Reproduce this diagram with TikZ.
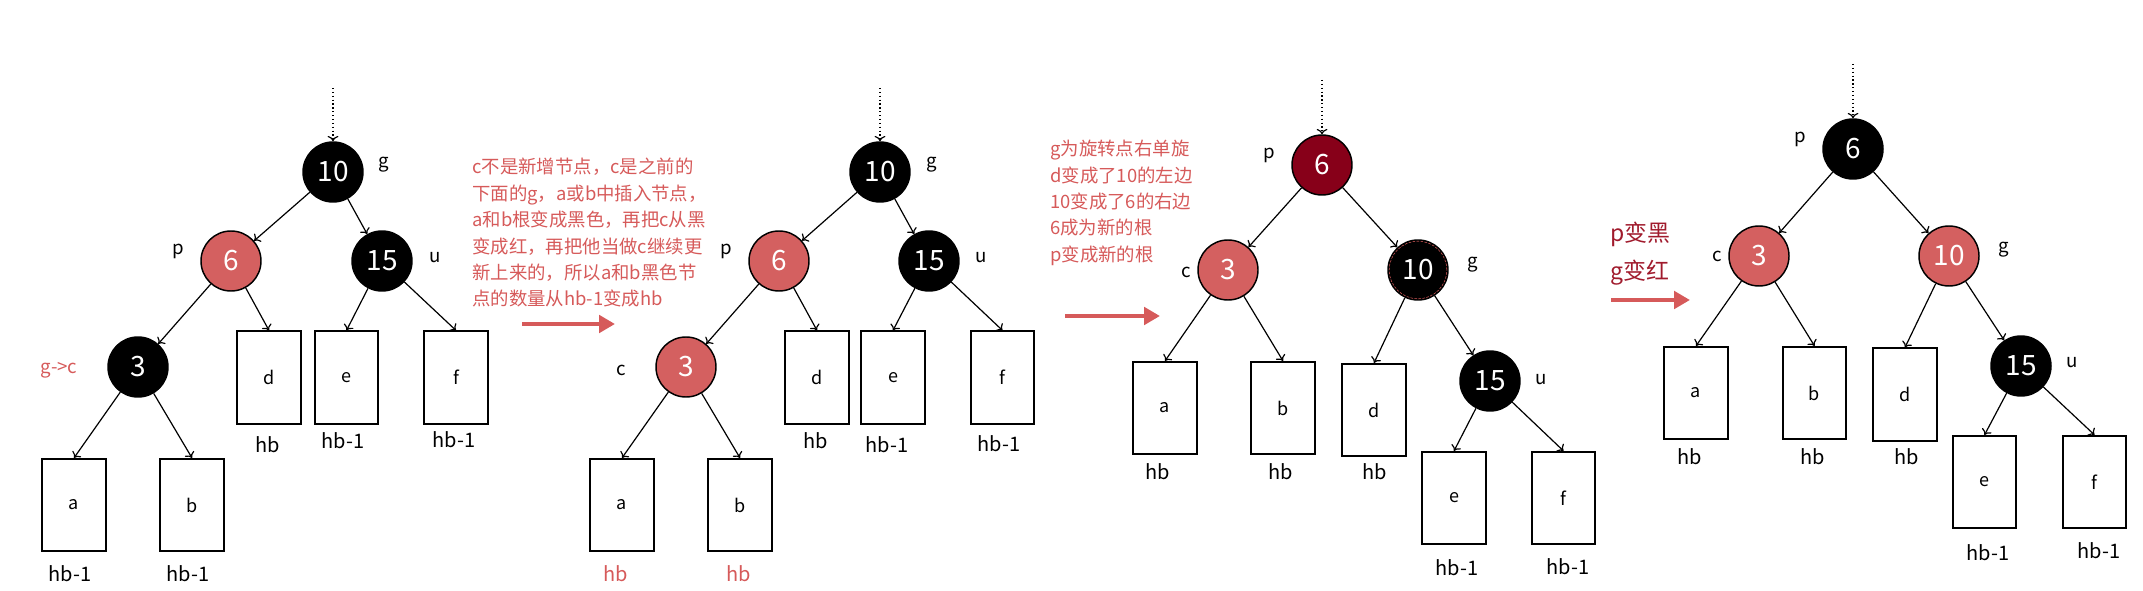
\documentclass[tikz,border=0pt]{standalone}
\usepackage{fontspec}
\setmainfont{Noto Sans CJK SC}
\usetikzlibrary{arrows.meta}

\definecolor{rbred}{HTML}{D46060}
\definecolor{notered}{HTML}{D65A5A}
\definecolor{rootred}{HTML}{870019}
\definecolor{tipred}{HTML}{A01A2C}

\begin{document}
\begin{tikzpicture}[
  x=0.75pt,y=-0.75pt,
  blacknode/.style={circle,draw=black,fill=black,line width=1.1pt,minimum size=45pt,inner sep=0pt,text=white,font=\fontsize{21}{21}\selectfont},
  rednode/.style={blacknode,fill=rbred},
  leaf/.style={draw,line width=1.2pt,minimum width=47.6pt,minimum height=69.4pt,inner sep=0pt,font=\fontsize{13.5}{13.5}\selectfont},
  tag/.style={inner sep=0pt,font=\fontsize{14}{14}\selectfont},
  hbtag/.style={inner sep=0pt,font=\fontsize{15}{15}\selectfont},
  link/.style={line width=.9pt,-{To[length=4pt,width=8pt]}},
  entry/.style={link,dotted},
  note/.style={text=notered,align=left,anchor=north west,inner sep=0pt,font=\fontsize{13.8}{19.8}\selectfont},
  nextstep/.style={notered,line width=3pt,-{Triangle[length=12pt,width=13pt]}}
]
  \useasboundingbox (0,0) rectangle (2143,591);

  % step 1
  \coordinate (top1) at (333,88);
  \node[blacknode] (g1) at (333,172) {10};
  \node[rednode] (p1) at (231,261) {6};
  \node[blacknode] (u1) at (382,261) {15};
  \node[blacknode] (c1) at (138,367) {3};
  \node[tag] (gl1) at (384,165) {g};
  \node[tag] (pl1) at (178,251) {p};
  \node[tag] (ul1) at (435,258) {u};
  \node[tag,text=notered] (cl1) at (59,370) {g->c};
  \node[leaf] (a1) at (74,505) {a};
  \node[leaf] (b1) at (192,505) {b};
  \node[leaf] (d1) at (269,377.5) {d};
  \node[leaf] (e1) at (346.5,377.5) {e};
  \node[leaf] (f1) at (456,377.5) {f};
  \node[hbtag] (hA1) at (70,574) {hb-1};
  \node[hbtag] (hB1) at (188,574) {hb-1};
  \node[hbtag] (hD1) at (268,445) {hb};
  \node[hbtag] (hE1) at (343,441) {hb-1};
  \node[hbtag] (hF1) at (454,440) {hb-1};
  \draw[entry] (top1) -- (g1);
  \draw[link] (g1) -- (p1);
  \draw[link] (g1) -- (u1);
  \draw[link] (p1) -- (c1);
  \draw[link] (p1) -- (d1.north);
  \draw[link] (u1) -- (e1.north);
  \draw[link] (u1) -- (f1.north);
  \draw[link] (c1) -- (a1.north);
  \draw[link] (c1) -- (b1.north);

  \node[note] (txt1) at (472,158) {c不是新增节点，c是之前的\\下面的g，a或b中插入节点，\\a和b根变成黑色，再把c从黑\\变成红，再把他当做c继续更\\新上来的，所以a和b黑色节\\点的数量从hb-1变成hb};
  \coordinate (s1a) at (522,324);
  \coordinate (s1b) at (615,324);
  \draw[nextstep] (s1a) -- (s1b);

  % step 2
  \coordinate (top2) at (880,88);
  \node[blacknode] (g2) at (880,172) {10};
  \node[rednode] (p2) at (779,261) {6};
  \node[blacknode] (u2) at (929,261) {15};
  \node[rednode] (c2) at (686,367) {3};
  \node[tag] (gl2) at (932,165) {g};
  \node[tag] (pl2) at (726,251) {p};
  \node[tag] (ul2) at (981,258) {u};
  \node[tag] (cl2) at (621,370) {c};
  \node[leaf] (a2) at (622,505) {a};
  \node[leaf] (b2) at (740,505) {b};
  \node[leaf] (d2) at (817,377.5) {d};
  \node[leaf] (e2) at (893,377.5) {e};
  \node[leaf] (f2) at (1002.5,377.5) {f};
  \node[hbtag,text=notered] (hA2) at (616,574) {hb};
  \node[hbtag,text=notered] (hB2) at (739,574) {hb};
  \node[hbtag] (hD2) at (816,441) {hb};
  \node[hbtag] (hE2) at (887,445) {hb-1};
  \node[hbtag] (hF2) at (999,444) {hb-1};
  \draw[entry] (top2) -- (g2);
  \draw[link] (g2) -- (p2);
  \draw[link] (g2) -- (u2);
  \draw[link] (p2) -- (c2);
  \draw[link] (p2) -- (d2.north);
  \draw[link] (u2) -- (e2.north);
  \draw[link] (u2) -- (f2.north);
  \draw[link] (c2) -- (a2.north);
  \draw[link] (c2) -- (b2.north);

  \node[note] (txt2) at (1050,140) {g为旋转点右单旋\\d变成了10的左边\\10变成了6的右边\\6成为新的根\\p变成新的根};
  \coordinate (s2a) at (1065,316);
  \coordinate (s2b) at (1160,316);
  \draw[nextstep] (s2a) -- (s2b);

  % step 3: right rotation round g
  \coordinate (top3) at (1322,80);
  \node[blacknode,fill=rootred] (p3) at (1322,165) {6};
  \node[rednode] (c3) at (1228,270) {3};
  \node[blacknode] (g3) at (1418,270) {10};
  \node[blacknode] (u3) at (1490,381) {15};
  \draw[notered,line width=.4pt,dash pattern=on 2pt off 1pt] (g3.center) circle[radius=21.6pt];
  \node[tag] (pl3) at (1269,155) {p};
  \node[tag] (cl3) at (1186,272) {c};
  \node[tag] (gl3) at (1473,265) {g};
  \node[tag] (ul3) at (1541,380) {u};
  \node[leaf] (a3) at (1165,408) {a};
  \node[leaf] (b3) at (1283,408) {b};
  \node[leaf] (d3) at (1374,410) {d};
  \node[leaf] (e3) at (1454,498) {e};
  \node[leaf] (f3) at (1563.5,498) {f};
  \node[hbtag] (hA3) at (1158,472) {hb};
  \node[hbtag] (hB3) at (1281,472) {hb};
  \node[hbtag] (hD3) at (1375,472) {hb};
  \node[hbtag] (hE3) at (1457,568) {hb-1};
  \node[hbtag] (hF3) at (1568,567) {hb-1};
  \draw[entry] (top3) -- (p3);
  \draw[link] (p3) -- (c3);
  \draw[link] (p3) -- (g3);
  \draw[link] (c3) -- (a3.north);
  \draw[link] (c3) -- (b3.north);
  \draw[link] (g3) -- (d3.north);
  \draw[link] (g3) -- (u3);
  \draw[link] (u3) -- (e3.north);
  \draw[link] (u3) -- (f3.north);

  \node[note,text=tipred,font=\fontsize{17.2}{28.5}\selectfont] (txt3) at (1610,222) {p变黑\\g变红};
  \coordinate (s3a) at (1611,300);
  \coordinate (s3b) at (1690,300);
  \draw[nextstep] (s3a) -- (s3b);

  % step 4: recolour
  \coordinate (top4) at (1853,64);
  \node[blacknode] (p4) at (1853,149) {6};
  \node[rednode] (c4) at (1759,256) {3};
  \node[rednode] (g4) at (1949,256) {10};
  \node[blacknode] (u4) at (2021,366) {15};
  \node[tag] (pl4) at (1800,139) {p};
  \node[tag] (cl4) at (1717,256) {c};
  \node[tag] (gl4) at (2004,250) {g};
  \node[tag] (ul4) at (2072,363) {u};
  \node[leaf] (a4) at (1696,393) {a};
  \node[leaf] (b4) at (1814.5,393) {b};
  \node[leaf] (d4) at (1905,394.5) {d};
  \node[leaf] (e4) at (1984.5,482) {e};
  \node[leaf] (f4) at (2094.5,482) {f};
  \node[hbtag] (hA4) at (1690,457) {hb};
  \node[hbtag] (hB4) at (1813,457) {hb};
  \node[hbtag] (hD4) at (1907,457) {hb};
  \node[hbtag] (hE4) at (1988,553) {hb-1};
  \node[hbtag] (hF4) at (2099,551) {hb-1};
  \draw[entry] (top4) -- (p4);
  \draw[link] (p4) -- (c4);
  \draw[link] (p4) -- (g4);
  \draw[link] (c4) -- (a4.north);
  \draw[link] (c4) -- (b4.north);
  \draw[link] (g4) -- (d4.north);
  \draw[link] (g4) -- (u4);
  \draw[link] (u4) -- (e4.north);
  \draw[link] (u4) -- (f4.north);
\end{tikzpicture}
\end{document}
